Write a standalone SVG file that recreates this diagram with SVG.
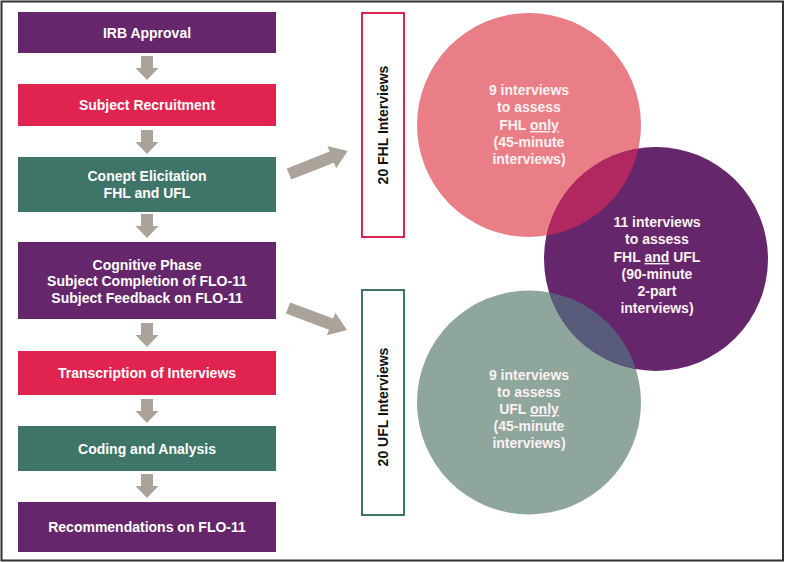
<svg xmlns="http://www.w3.org/2000/svg" width="785" height="562" viewBox="0 0 785 562">
<style>
.box text{font-family:"Liberation Sans",Arial,sans-serif;font-weight:bold;font-size:14px;fill:#ffffff;text-anchor:middle}
.purple{fill:#65266b}
.red{fill:#e0234f}
.teal{fill:#3f7569}
.arrow{fill:#aba299}
.ctext{font-family:"Liberation Sans",Arial,sans-serif;font-weight:bold;font-size:14px;fill:#fbf1f2;text-anchor:middle}
.vtext{font-family:"Liberation Sans",Arial,sans-serif;font-weight:bold;font-size:14px;fill:#111111;text-anchor:middle}
</style>
<defs>
<path id="down" d="M-6,0 H6 V12 H11.5 L0,24 L-11.5,12 H-6 Z"/>
<path id="diag" d="M0,-6 H46 V-12 L63,0 L46,12 V6 H0 Z"/>
<clipPath id="clipPink"><circle cx="529" cy="125" r="112"/></clipPath>
<clipPath id="clipTeal"><circle cx="529" cy="402.5" r="112"/></clipPath>
</defs>
<rect x="0" y="0" width="785" height="562" fill="#ffffff"/>
<rect x="1.5" y="1.5" width="781.5" height="559" fill="none" stroke="#333333" stroke-width="2"/>

<g id="n1" class="box"><rect class="purple" x="18" y="12" width="258" height="41"/><text x="147" y="37.5">IRB Approval</text></g>
<g id="n2" class="box"><rect class="red" x="18" y="84" width="258" height="42"/><text x="147" y="110">Subject Recruitment</text></g>
<g id="n3" class="box"><rect class="teal" x="18" y="157" width="258" height="55"/><text x="147" y="181">Conept Elicitation</text><text x="147" y="198">FHL and UFL</text></g>
<g id="n4" class="box"><rect class="purple" x="18" y="242" width="258" height="77"/><text x="147" y="269.5">Cognitive Phase</text><text x="147" y="286">Subject Completion of FLO-11</text><text x="147" y="302.5">Subject Feedback on FLO-11</text></g>
<g id="n5" class="box"><rect class="red" x="18" y="351" width="258" height="44"/><text x="147" y="378">Transcription of Interviews</text></g>
<g id="n6" class="box"><rect class="teal" x="18" y="426" width="258" height="45"/><text x="147" y="453.5">Coding and Analysis</text></g>
<g id="n7" class="box"><rect class="purple" x="18" y="502" width="258" height="50"/><text x="147" y="532">Recommendations on FLO-11</text></g>

<g id="fhl"><rect x="362" y="13" width="42" height="224" fill="#ffffff" stroke="#e0234f" stroke-width="2"/><text class="vtext" transform="translate(388,125) rotate(-90)">20 FHL Interviews</text></g>
<g id="ufl"><rect x="362" y="290" width="42" height="225" fill="#ffffff" stroke="#3f7569" stroke-width="2"/><text class="vtext" transform="translate(388,407) rotate(-90)">20 UFL Interviews</text></g>

<g id="circlePink"><circle cx="529" cy="125" r="112" fill="#e97e86"/></g>
<g id="circleTeal"><circle cx="529" cy="402.5" r="112" fill="#8ea69c"/></g>
<g id="circlePurple"><circle cx="656" cy="259" r="112" fill="#65266b"/>
<circle cx="656" cy="259" r="112" fill="#b1275f" clip-path="url(#clipPink)"/>
<circle cx="656" cy="259" r="112" fill="#585b79" clip-path="url(#clipTeal)"/></g>

<g id="pinkText" class="ctext"><text class="ctext" x="529" y="95">9 interviews</text><text class="ctext" x="529" y="112">to assess</text><text class="ctext" x="529" y="130">FHL <tspan text-decoration="underline">only</tspan></text><text class="ctext" x="529" y="147">(45-minute</text><text class="ctext" x="529" y="164">interviews)</text></g>
<g id="purpleText"><text class="ctext" x="657" y="227">11 interviews</text><text class="ctext" x="657" y="244">to assess</text><text class="ctext" x="657" y="262">FHL <tspan text-decoration="underline">and</tspan> UFL</text><text class="ctext" x="657" y="279">(90-minute</text><text class="ctext" x="657" y="296">2-part</text><text class="ctext" x="657" y="313">interviews)</text></g>
<g id="tealText"><text class="ctext" x="529" y="380">9 interviews</text><text class="ctext" x="529" y="397">to assess</text><text class="ctext" x="529" y="414">UFL <tspan text-decoration="underline">only</tspan></text><text class="ctext" x="529" y="431">(45-minute</text><text class="ctext" x="529" y="448">interviews)</text></g>

<g id="connectors" class="arrow">
<use href="#down" x="147" y="56"/>
<use href="#down" x="147" y="130"/>
<use href="#down" x="147" y="214"/>
<use href="#down" x="147" y="323"/>
<use href="#down" x="147" y="399"/>
<use href="#down" x="147" y="474"/>
<use href="#diag" transform="translate(289,174) rotate(-21.5)"/>
<use href="#diag" transform="translate(288,308) rotate(20.5)"/>
</g>
</svg>
